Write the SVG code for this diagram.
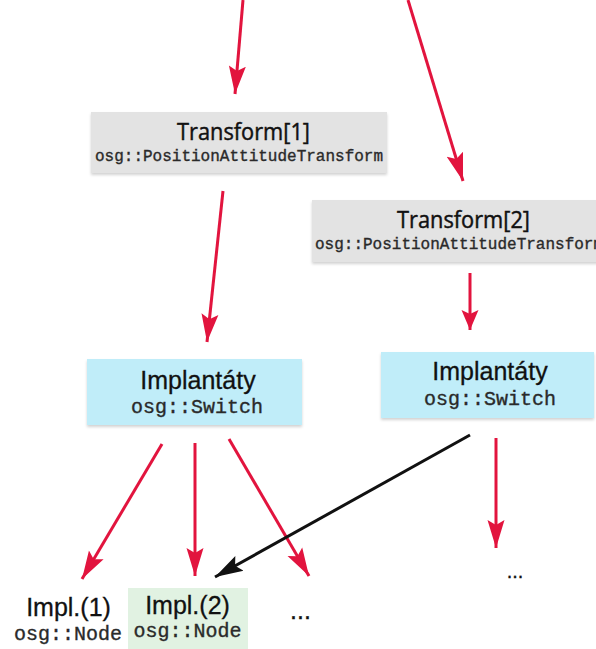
<svg xmlns="http://www.w3.org/2000/svg" width="596" height="649" viewBox="0 0 596 649">
  <style>
    .bg { fill: #ffffff; }
    .xform { fill: #e3e3e3; }
    .switch { fill: #c0edf9; }
    .leaf { fill: #e1f2e2; }
    .title { font-family: "Open Sans", "Noto Sans", sans-serif; font-size: 23px; fill: #111; stroke: #111; stroke-width: 0.45px; text-anchor: middle; }
    .label { font-family: "Liberation Sans", Arial, sans-serif; font-size: 25px; fill: #111; stroke: #111; stroke-width: 0.3px; text-anchor: middle; }
    .mono { font-family: "Liberation Mono", "Courier New", monospace; fill: #2a2a2a; stroke: #2a2a2a; stroke-width: 0.35px; }
    .m16 { font-size: 16px; }
    .m20 { font-size: 20px; text-anchor: middle; }
    .red { stroke: #e2143e; stroke-width: 3; fill: none; }
    .blk { stroke: #111; stroke-width: 3; fill: none; }
  </style>
  <defs>
    <filter id="soft" x="-5%" y="-10%" width="110%" height="130%">
      <feGaussianBlur in="SourceAlpha" stdDeviation="1.5"/>
      <feOffset dx="0" dy="1.5" result="b"/>
      <feComponentTransfer><feFuncA type="linear" slope="0.18"/></feComponentTransfer>
      <feMerge><feMergeNode/><feMergeNode in="SourceGraphic"/></feMerge>
    </filter>
    <marker id="headRed" markerUnits="userSpaceOnUse" markerWidth="30" markerHeight="20" viewBox="-28 -9 30 18" refX="0" refY="0" orient="auto">
      <path d="M0,0 L-28,-8.5 L-23,0 L-28,8.5 Z" fill="#e2143e"/>
    </marker>
    <marker id="headRedSmall" markerUnits="userSpaceOnUse" markerWidth="22" markerHeight="20" viewBox="-20 -9 22 18" refX="0" refY="0" orient="auto">
      <path d="M0,0 L-20,-8.5 L-16,0 L-20,8.5 Z" fill="#e2143e"/>
    </marker>
    <marker id="headBlack" markerUnits="userSpaceOnUse" markerWidth="30" markerHeight="20" viewBox="-28 -9 30 18" refX="0" refY="0" orient="auto">
      <path d="M0,0 L-28,-8.5 L-23,0 L-28,8.5 Z" fill="#111"/>
    </marker>
  </defs>

  <rect class="bg" x="0" y="0" width="596" height="649"/>

  <g id="transform1">
    <rect class="xform" x="91" y="112" width="296" height="61" filter="url(#soft)"/>
    <text class="title" x="243.5" y="140" textLength="133" lengthAdjust="spacingAndGlyphs">Transform[1]</text>
    <text class="mono m16" x="95" y="161">osg::PositionAttitudeTransform</text>
  </g>

  <!-- the box runs past the right edge, so its subtitle is clipped there -->
  <g id="transform2">
    <rect class="xform" x="312" y="200" width="296" height="62" filter="url(#soft)"/>
    <text class="title" x="463.5" y="228" textLength="133" lengthAdjust="spacingAndGlyphs">Transform[2]</text>
    <text class="mono m16" x="315" y="249">osg::PositionAttitudeTransform</text>
  </g>

  <g id="switch1">
    <rect class="switch" x="87" y="359" width="215" height="66" filter="url(#soft)"/>
    <text class="label" x="198" y="389">Implantáty</text>
    <text class="mono m20" x="197" y="413">osg::Switch</text>
  </g>

  <g id="switch2">
    <rect class="switch" x="381" y="352" width="213" height="66" filter="url(#soft)"/>
    <text class="label" x="490" y="380">Implantáty</text>
    <text class="mono m20" x="490" y="405">osg::Switch</text>
  </g>

  <g id="impl1">
    <text class="label" x="68.5" y="616">Impl.(1)</text>
    <text class="mono m20" x="68" y="640">osg::Node</text>
  </g>

  <g id="impl2">
    <rect class="leaf" x="128" y="588" width="120" height="61"/>
    <text class="label" x="187.5" y="614">Impl.(2)</text>
    <text class="mono m20" x="187.5" y="637">osg::Node</text>
  </g>

  <g id="more1">
    <text class="label" x="300.5" y="619">...</text>
  </g>

  <g id="more2">
    <text class="label" x="515" y="578" style="font-size:20px">...</text>
  </g>

  <g id="connectors">
    <line class="red" x1="243" y1="0" x2="235" y2="94" marker-end="url(#headRed)"/>
    <line class="red" x1="408" y1="0" x2="463" y2="181" marker-end="url(#headRed)"/>
    <line class="red" x1="223" y1="191" x2="207" y2="342" marker-end="url(#headRed)"/>
    <line class="red" x1="470" y1="273" x2="470" y2="330" marker-end="url(#headRedSmall)"/>
    <line class="red" x1="162" y1="444" x2="82" y2="579" marker-end="url(#headRed)"/>
    <line class="red" x1="195" y1="443" x2="195" y2="576" marker-end="url(#headRed)"/>
    <line class="red" x1="229" y1="439" x2="309" y2="576" marker-end="url(#headRed)"/>
    <line class="red" x1="496" y1="438" x2="496" y2="548" marker-end="url(#headRed)"/>
    <line class="blk" x1="470" y1="435" x2="215" y2="577" marker-end="url(#headBlack)"/>
  </g>
</svg>
